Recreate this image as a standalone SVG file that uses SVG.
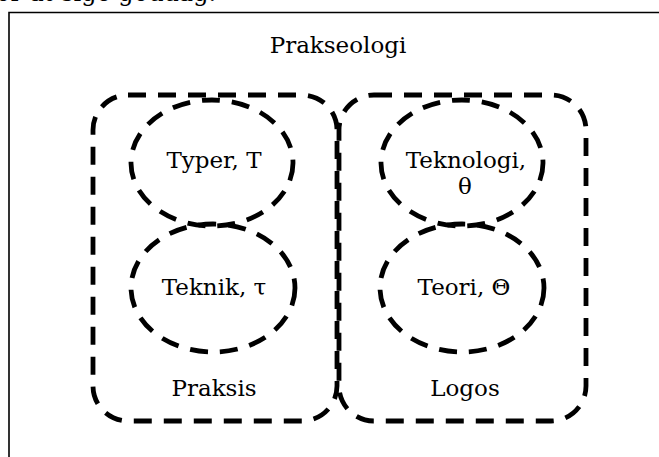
<svg xmlns="http://www.w3.org/2000/svg" width="659" height="457" viewBox="0 0 659 457">
  <style>
    .lbl { font-family: "DejaVu Serif", "Liberation Serif", serif; font-size: 23px; fill: #000; text-anchor: middle; }
    .dash { fill: none; stroke: #000; stroke-width: 4.8; stroke-dasharray: 18 12; }
    .frame { fill: none; stroke: #000; stroke-width: 1.6; }
  </style>
  <rect width="659" height="457" fill="#fff"/>

  <!-- running text above the figure -->
  <text x="-4" y="1" style="font-family: 'DejaVu Serif', 'Liberation Serif', serif; font-size: 24px;">or at sige goddag.</text>

  <!-- figure frame -->
  <path class="frame" d="M9,470 V12.5 H670"/>

  <g id="prakseologi">
    <text class="lbl" x="338" y="53">Prakseologi</text>
  </g>

  <g id="praksis">
    <rect class="dash" x="93" y="95" width="244" height="326" rx="35" ry="35"/>
    <text class="lbl" x="214" y="396">Praksis</text>
  </g>

  <g id="logos">
    <rect class="dash" x="339" y="95" width="247" height="326" rx="35" ry="35"/>
    <text class="lbl" x="465" y="396">Logos</text>
  </g>

  <g id="typer">
    <ellipse class="dash" cx="212" cy="163" rx="81" ry="63"/>
    <text class="lbl" x="214" y="168">Typer, T</text>
  </g>

  <g id="teknik">
    <ellipse class="dash" cx="213" cy="288" rx="82" ry="64"/>
    <text class="lbl" x="214" y="295">Teknik, τ</text>
  </g>

  <g id="teknologi">
    <ellipse class="dash" cx="462" cy="163" rx="81" ry="63"/>
    <text class="lbl" x="466" y="168">Teknologi,</text>
    <text class="lbl" x="465" y="194">θ</text>
  </g>

  <g id="teori">
    <ellipse class="dash" cx="462" cy="288" rx="82" ry="64"/>
    <text class="lbl" x="464" y="295">Teori, Θ</text>
  </g>

  <g id="connectors"></g>
</svg>
